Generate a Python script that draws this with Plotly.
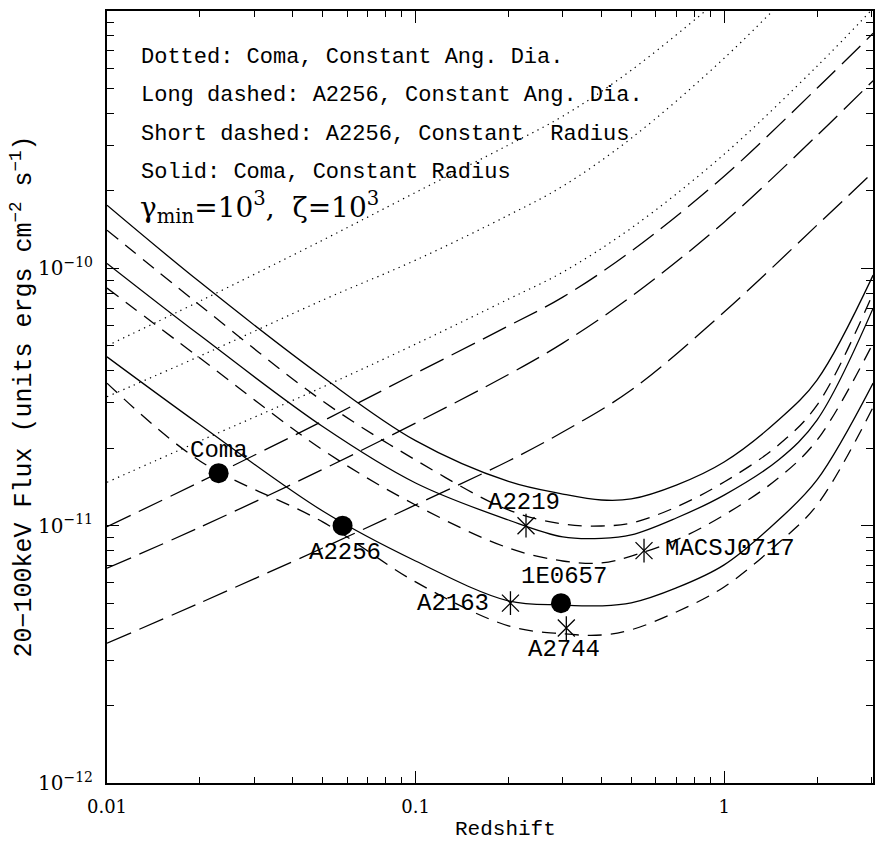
import math
import plotly.graph_objects as go

# ---------------- data ----------------
# U-shaped curves (constant radius)
z_u = [0.01, 0.02, 0.05, 0.1, 0.2, 0.3, 0.4, 0.5, 0.7, 1.0, 1.5, 2.0, 3.04]
solid_1 = [1.759e-10, 8.84e-11, 3.78e-11, 2.14e-11, 1.485e-11, 1.327e-11, 1.258e-11, 1.27e-11, 1.438e-11, 1.768e-11, 2.573e-11, 3.68e-11, 9.41e-11]
solid_2 = [1.045e-10, 5.49e-11, 2.428e-11, 1.465e-11, 1.052e-11, 9.04e-12, 8.92e-12, 9.20e-12, 1.071e-11, 1.315e-11, 1.80e-11, 2.573e-11, 7.0e-11]
solid_3 = [4.53e-11, 2.467e-11, 1.14e-11, 7.29e-12, 5.10e-12, 4.92e-12, 4.88e-12, 5.01e-12, 5.73e-12, 7.04e-12, 1.052e-11, 1.505e-11, 3.58e-11]
short_1 = [1.407e-10, 7.19e-11, 3.05e-11, 1.80e-11, 1.151e-11, 1.015e-11, 9.97e-12, 1.024e-11, 1.182e-11, 1.478e-11, 2.058e-11, 2.94e-11, 8.01e-11]
short_2 = [8.38e-11, 4.48e-11, 1.97e-11, 1.203e-11, 8.19e-12, 7.29e-12, 7.16e-12, 7.62e-12, 8.80e-12, 1.10e-11, 1.532e-11, 2.15e-11, 5.12e-11]
short_3 = [3.58e-11, 1.784e-11, 1.034e-11, 6.045e-12, 4.08e-12, 3.80e-12, 3.76e-12, 3.94e-12, 4.62e-12, 5.78e-12, 8.56e-12, 1.203e-11, 2.89e-11]

# rising curves (constant angular diameter)
z_ad = [0.01, 0.02, 0.05, 0.1, 0.2, 0.3, 0.5, 1.0, 2.0, 3.04]
dotted_1 = [5.0e-11, 7.457e-11, 1.287e-10, 1.972e-10, 3.015e-10, 3.900e-10, 5.886e-10, 1.151e-9]
dotted_2 = [3.169e-11, 4.561e-11, 7.524e-11, 1.076e-10, 1.609e-10, 2.086e-10, 3.203e-10, 6.552e-10, 1.504e-9]
dotted_3 = [1.474e-11, 2.133e-11, 3.456e-11, 5.076e-11, 7.592e-11, 9.666e-11, 1.433e-10, 2.776e-10, 6.100e-10, 1.024e-9]
long_1 = [9.91e-12, 1.478e-11, 2.550e-11, 3.907e-11, 5.974e-11, 7.728e-11, 1.166e-10, 2.281e-10, 5.009e-10, 8.19e-10]
long_2 = [6.832e-12, 9.858e-12, 1.654e-11, 2.505e-11, 3.866e-11, 5.122e-11, 7.770e-11, 1.511e-10, 3.282e-10, 5.362e-10]
long_3 = [3.494e-12, 5.009e-12, 8.19e-12, 1.204e-11, 1.784e-11, 2.312e-11, 3.365e-11, 6.762e-11, 1.472e-10, 2.364e-10]

# clusters
circle_names = ["Coma", "A2256", "1E0657"]
circle_z = [0.023, 0.058, 0.296]
circle_flux = [1.6e-11, 1.0e-11, 5.0e-12]

star_names = ["A2219", "MACSJ0717", "A2163", "A2744"]
star_z = [0.228, 0.55, 0.203, 0.308]
star_flux = [1.0e-11, 8.0e-12, 5.0e-12, 4.0e-12]

x_ticks = [0.01, 0.1, 1]
x_ticktext = ["0.01", "0.1", "1"]
y_ticks = [1e-12, 1e-11, 1e-10, 1e-9]
y_ticktext = ["10<sup>\u221212</sup>", "10<sup>\u221211</sup>", "10<sup>\u221210</sup>", "10<sup>\u22129</sup>"]

legend_lines = [
    "Dotted: Coma, Constant Ang. Dia.",
    "Long dashed: A2256, Constant Ang. Dia.",
    "Short dashed: A2256, Constant\u00a0\u00a0Radius",
    "Solid: Coma, Constant Radius",
]
param_text = "\u03b3<sub>min</sub>=10<sup>3</sup>,\u00a0\u00a0\u03b6=10<sup>3</sup>"

# ---------------- figure ----------------
fig = go.Figure()

DOT = "1.3px,4.5px"
LONG = "26px,9px"
SHORT = "14px,9px"

def add_curve(x, y, dash, width=1.3):
    fig.add_trace(go.Scatter(
        x=x[:len(y)], y=y, mode="lines",
        line=dict(color="black", width=width, dash=dash, shape="spline", smoothing=1.0),
        showlegend=False, hoverinfo="skip"))

for c in (dotted_1, dotted_2, dotted_3):
    add_curve(z_ad, c, DOT, 1.2)
for c in (long_1, long_2, long_3):
    add_curve(z_ad, c, LONG)
for c in (short_1, short_2, short_3):
    add_curve(z_u, c, SHORT)
for c in (solid_1, solid_2, solid_3):
    add_curve(z_u, c, "solid")

fig.add_trace(go.Scatter(
    x=circle_z, y=circle_flux, mode="markers",
    marker=dict(symbol="circle", size=20, color="black"),
    showlegend=False, hoverinfo="skip"))
for sym in ("line-ns-open", "x-thin-open"):
    fig.add_trace(go.Scatter(
        x=star_z, y=star_flux, mode="markers",
        marker=dict(symbol=sym, size=17, color="black", line=dict(color="black", width=1.3)),
        showlegend=False, hoverinfo="skip"))

label_font = dict(family="Liberation Mono", size=24, color="black")
offsets = {
    "Coma": (0, 23, "center"),
    "A2256": (2, -27, "center"),
    "1E0657": (3, 27, "center"),
    "A2219": (-2, 23, "center"),
    "MACSJ0717": (19, 2, "left"),
    "A2163": (-19, 0, "right"),
    "A2744": (-2, -21, "center"),
}
for names, zs, fs in ((circle_names, circle_z, circle_flux), (star_names, star_z, star_flux)):
    for n, zv, fv in zip(names, zs, fs):
        dx, dy, anc = offsets[n]
        fig.add_annotation(x=math.log10(zv), y=math.log10(fv), xref="x", yref="y",
                           text=n, showarrow=False, xshift=dx, yshift=dy,
                           xanchor=anc, yanchor="middle", font=label_font)

legend_y = [0.9401, 0.8909, 0.8404, 0.7912]
for t, yy in zip(legend_lines, legend_y):
    fig.add_annotation(x=0.042, y=yy, xref="paper", yref="paper", text=t,
                       showarrow=False, xanchor="left", yanchor="middle",
                       font=dict(family="Liberation Mono", size=22, color="black"))
fig.add_annotation(x=0.040, y=0.7459, xref="paper", yref="paper", text=param_text,
                   showarrow=False, xanchor="left", yanchor="middle",
                   font=dict(family="DejaVu Serif", size=28, color="black"))

# axis titles
fig.add_annotation(x=0.5197, y=-0.0604, xref="paper", yref="paper", text="Redshift",
                   showarrow=False, xanchor="center", yanchor="middle",
                   font=dict(family="Liberation Mono", size=21, color="black"))
fig.add_annotation(x=-0.1102, y=0.5, xref="paper", yref="paper",
                   text="20\u2212100keV Flux (units ergs cm<sup>\u22122</sup> s<sup>\u22121</sup>)",
                   textangle=-90, showarrow=False, xanchor="center", yanchor="middle",
                   font=dict(family="Liberation Mono", size=25, color="black"))

x_minor = [d * 10 ** e for e in (-2, -1) for d in range(2, 10)] + [2, 3]
y_minor = [d * 10 ** e for e in (-12, -11, -10) for d in range(2, 10)]

fig.update_xaxes(type="log", range=[-2, math.log10(3.037)],
                 tickmode="array", tickvals=x_ticks, ticktext=x_ticktext,
                 ticks="inside", ticklen=12, tickwidth=1.3, tickcolor="black",
                 minor=dict(ticks="inside", ticklen=6, tickwidth=1.2, tickcolor="black",
                            tickmode="array", tickvals=x_minor, showgrid=False),
                 showline=True, linecolor="black", linewidth=2, mirror="allticks",
                 showgrid=False, zeroline=False, ticklabelstandoff=6,
                 tickfont=dict(family="DejaVu Serif", size=18, color="black"))
fig.update_yaxes(type="log", range=[-12, -9],
                 tickmode="array", tickvals=y_ticks, ticktext=y_ticktext,
                 ticks="inside", ticklen=12, tickwidth=1.3, tickcolor="black",
                 minor=dict(ticks="inside", ticklen=7, tickwidth=1.2, tickcolor="black",
                            tickmode="array", tickvals=y_minor, showgrid=False),
                 showline=True, linecolor="black", linewidth=2, mirror="allticks",
                 showgrid=False, zeroline=False, ticklabelstandoff=8,
                 tickfont=dict(family="DejaVu Serif", size=20, color="black"))

fig.update_layout(width=876, height=846,
                  margin=dict(l=107, r=1, t=11, b=63),
                  paper_bgcolor="white", plot_bgcolor="white")

fig.write_html("out.html")
